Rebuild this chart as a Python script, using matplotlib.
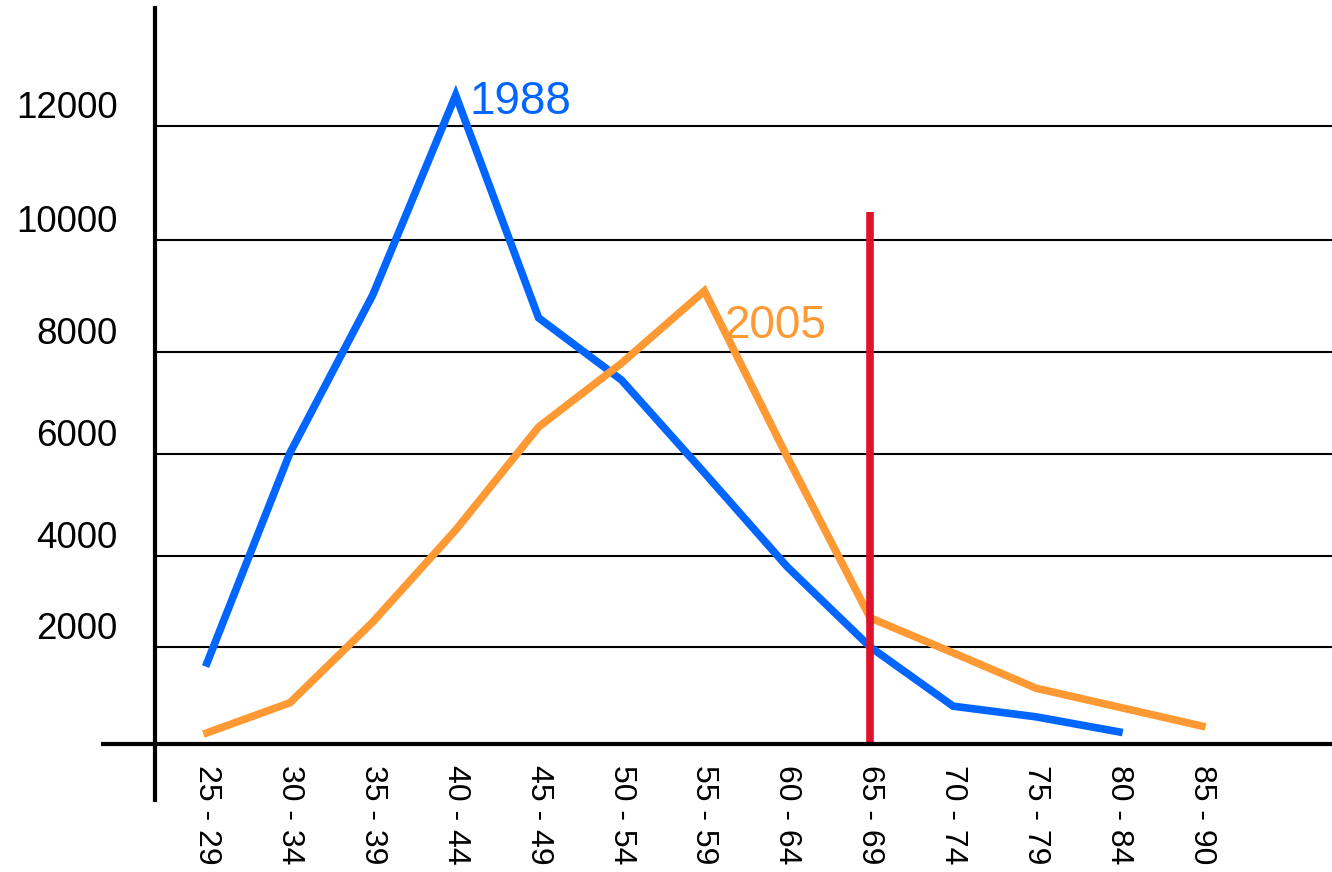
import matplotlib.pyplot as plt
import numpy as np

plt.rcParams['font.family'] = ['Liberation Sans', 'DejaVu Sans']

# age groups on the x axis
ages = ['25 - 29', '30 - 34', '35 - 39', '40 - 44', '45 - 49', '50 - 54', '55 - 59',
        '60 - 64', '65 - 69', '70 - 74', '75 - 79', '80 - 84', '85 - 90']
# values
v1988 = [1670, 6020, 9020, 12540, 8610, 7450, 5630, 3760, 2000, 780, 560, 250]
v2005 = [230, 850, 2550, 4510, 6530, 7780, 9090, 5940, 2640, 1880, 1150, 760, 370]
yticks = [2000, 4000, 6000, 8000, 10000, 12000]
cutoff = '65 - 69'
cutoff_top = 10490

blue = '#0066FF'
orange = '#FF9933'
red = '#E0112B'

# the hand drawn value axis is not evenly spaced: pixel height of each gridline
grid_vals = [0, 2000, 4000, 6000, 8000, 10000, 12000, 14070]
grid_px = [0, 97, 188, 290, 392, 504, 618, 736]

def fwd(v):
    return np.interp(v, grid_vals, grid_px)

def inv(p):
    return np.interp(p, grid_px, grid_vals)

fig = plt.figure(figsize=(13.32, 8.72), dpi=100)
W, H = 1332, 872
ax = fig.add_axes([155/W, (H-744)/H, (W-155)/W, 736/H])
ax.set_yscale('function', functions=(fwd, inv))

x = np.arange(len(ages))
ax.plot(x[:len(v1988)], v1988, color=blue, lw=5.5, solid_joinstyle='miter', zorder=3)
ax.plot(x, v2005, color=orange, lw=5.5, solid_joinstyle='miter', zorder=4)
ax.vlines(ages.index(cutoff), 0, cutoff_top, color=red, lw=5.5, zorder=5)

ax.text(3.17, 12210, '1988', color=blue, fontsize=33, ha='left', va='baseline')
ax.text(6.25, 8250, '2005', color=orange, fontsize=33, ha='left', va='baseline')

ax.set_xlim(-0.627, 13.57)
ax.set_ylim(0, 14070)

ax.set_xticks(x)
ax.set_xticklabels(ages, rotation=270, fontsize=23)
ax.set_yticks(yticks)
ax.set_yticklabels([str(v) for v in yticks], fontsize=26.5)
ax.minorticks_off()
for t in ax.get_yticklabels():
    t.set_va('bottom')
ax.tick_params(axis='x', length=0, pad=15)
ax.tick_params(axis='y', length=0, pad=27)

ax.grid(axis='y', color='black', lw=1.5)
ax.set_axisbelow(True)
for s in ax.spines.values():
    s.set_visible(False)

# axis lines that stick out past the plot area
ax.axhline(0, xmin=-52/1177, xmax=1, color='black', lw=3, clip_on=False, zorder=6)
ax.axvline(-0.627, ymin=-56/736, ymax=1, color='black', lw=3, clip_on=False, zorder=6)

fig.savefig('out.png', dpi=100)
